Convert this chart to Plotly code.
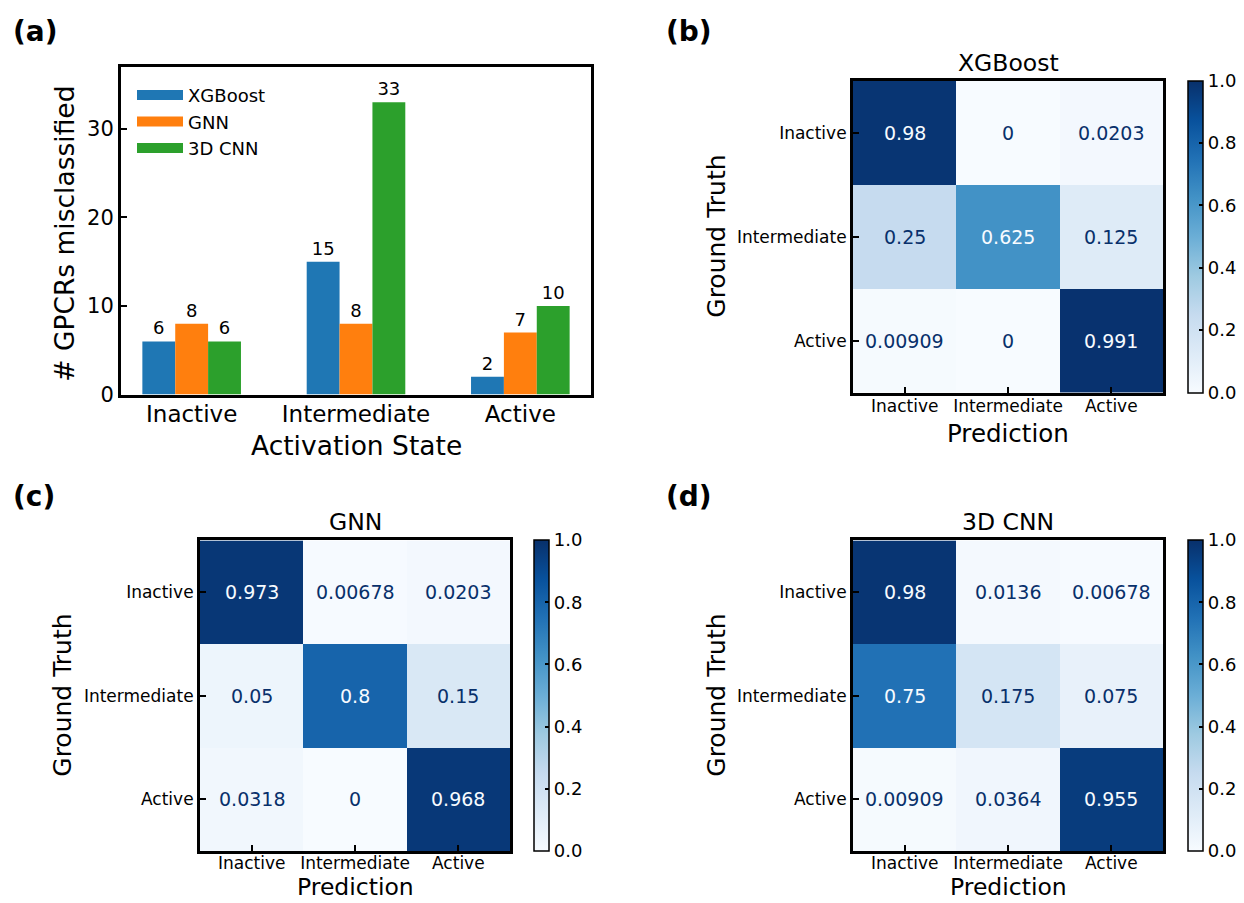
import plotly.graph_objects as go

W = 1244
H_REF = 903          # reference picture height (coordinates below are read from it)
H = 914              # figure height; the page capture is rescaled to 903 px

# ---------------- data ----------------
states = ["Inactive", "Intermediate", "Active"]
models = ["XGBoost", "GNN", "3D CNN"]
mis_xgb = [6, 15, 2]
mis_gnn = [8, 8, 7]
mis_cnn = [6, 33, 10]

cm_xgb = [[0.98, 0.0, 0.0203],
          [0.25, 0.625, 0.125],
          [0.00909, 0.0, 0.991]]
cm_gnn = [[0.973, 0.00678, 0.0203],
          [0.05, 0.8, 0.15],
          [0.0318, 0.0, 0.968]]
cm_cnn = [[0.98, 0.0136, 0.00678],
          [0.75, 0.175, 0.075],
          [0.00909, 0.0364, 0.955]]

bar_colors = ["#1f77b4", "#ff7f0e", "#2ca02c"]
blues = [[0.0, "rgb(247,251,255)"], [0.125, "rgb(222,235,247)"], [0.25, "rgb(198,219,239)"],
         [0.375, "rgb(158,202,225)"], [0.5, "rgb(107,174,214)"], [0.625, "rgb(66,146,198)"],
         [0.75, "rgb(33,113,181)"], [0.875, "rgb(8,81,156)"], [1.0, "rgb(8,48,107)"]]

FONT = "DejaVu Sans"


def px(x):
    return x / W


def py(y):
    return 1 - y / H_REF


fig = go.Figure()

# ---------------- panel (a): bars ----------------
for name, vals, col in zip(models, [mis_xgb, mis_gnn, mis_cnn], bar_colors):
    fig.add_trace(go.Bar(
        x=list(range(len(states))), y=vals, name=name, marker_color=col,
        marker_line_width=0, text=[str(v) for v in vals], textposition="outside",
        textfont=dict(size=18, color="black", family=FONT), cliponaxis=False,
        xaxis="x", yaxis="y", showlegend=False, legendgroup=name))
    # legend entry drawn as a wide patch
    fig.add_trace(go.Scatter(
        x=[None], y=[None], mode="lines", name=name, line=dict(color=col, width=13),
        xaxis="x", yaxis="y", showlegend=True, legendgroup=name, hoverinfo="skip"))

axis_common = dict(showline=True, linecolor="black", linewidth=3, mirror=True,
                   ticks="inside", ticklen=6, tickwidth=2, tickcolor="black",
                   showgrid=False, zeroline=False)

layout = dict(
    width=W, height=H, margin=dict(l=0, r=0, t=0, b=0),
    paper_bgcolor="white", plot_bgcolor="white",
    font=dict(family=FONT, color="black"),
    barmode="group", bargap=0.4, bargroupgap=0.0,
    xaxis=dict(domain=[px(121), px(591)], anchor="y", range=[-0.43, 2.43],
               tickvals=list(range(len(states))), ticktext=states, ticklabelstandoff=-3,
               tickfont=dict(size=23), **{**axis_common, "ticks": ""}),
    yaxis=dict(domain=[py(395), py(67)], anchor="x", range=[0, 37],
               tickvals=[0, 10, 20, 30], tickfont=dict(size=21), **axis_common),
    legend=dict(x=px(132), y=py(77), xanchor="left", yanchor="top",
                font=dict(size=18), bgcolor="rgba(0,0,0,0)", tracegroupgap=0,
                itemwidth=46, traceorder="normal"),
)

annotations = []
annotations.append(dict(text="Activation State", x=px(356), y=py(446), xref="paper", yref="paper",
                        showarrow=False, font=dict(size=26.5), xanchor="center", yanchor="middle"))
annotations.append(dict(text="# GPCRs misclassified", x=px(65), y=py(234), xref="paper", yref="paper",
                        showarrow=False, font=dict(size=26.5), textangle=-90,
                        xanchor="center", yanchor="middle"))

# ---------------- heatmaps ----------------
panels = [
    ("XGBoost", cm_xgb, (853, 1163, 81, 393), (1188, 1203), 717, "2"),
    ("GNN", cm_gnn, (200, 510, 541, 852), (534, 549), 63, "3"),
    ("3D CNN", cm_cnn, (853, 1163, 541, 852), (1188, 1203), 717, "4"),
]

for title, cm, (x0, x1, y0, y1), (c0, c1), ytx, k in panels:
    bottom_row = y1 + 41 + 16 > H_REF
    fig.add_trace(go.Heatmap(
        z=cm, x=list(range(3)), y=list(range(3)), zmin=0, zmax=1,
        colorscale=blues, xaxis="x" + k, yaxis="y" + k, hoverinfo="z",
        colorbar=dict(x=px(c0), xanchor="left", xref="paper", y=py(y1), yanchor="bottom",
                      yref="paper", len=(y1 - y0) / H_REF, lenmode="fraction",
                      thickness=c1 - c0, thicknessmode="pixels",
                      outlinewidth=1.5, outlinecolor="black",
                      ticks="inside", ticklen=4, tickwidth=1.5, tickcolor="black",
                      tickvals=[0, 0.2, 0.4, 0.6, 0.8, 1.0], ticktext=["0.0", "0.2", "0.4", "0.6", "0.8", "1.0"],
                      tickfont=dict(size=18, family=FONT), xpad=0, ypad=0)))
    layout["xaxis" + k] = dict(domain=[px(x0), px(x1)], anchor="y" + k, range=[-0.5, 2.5],
                               tickvals=list(range(3)), ticktext=states,
                               ticklabelstandoff=-5 if bottom_row else -4,
                               tickfont=dict(size=17), **axis_common)
    layout["yaxis" + k] = dict(domain=[py(y1), py(y0)], anchor="x" + k, range=[2.5, -0.5],
                               tickvals=list(range(3)), ticktext=states,
                               tickfont=dict(size=17), **axis_common)
    cx = (x0 + x1) / 2
    annotations.append(dict(text=title, x=px(cx), y=py(y0 - 18), xref="paper", yref="paper",
                            showarrow=False, font=dict(size=23.5), xanchor="center", yanchor="middle"))
    if bottom_row:
        # bottom row: keep the title inside the page
        annotations.append(dict(text="Prediction", x=px(cx), y=0, xref="paper", yref="paper",
                                showarrow=False, font=dict(size=23.5), xanchor="center",
                                yanchor="bottom", borderpad=0))
    else:
        annotations.append(dict(text="Prediction", x=px(cx), y=py(y1 + 41), xref="paper",
                                yref="paper", showarrow=False, font=dict(size=24.5),
                                xanchor="center", yanchor="middle"))
    annotations.append(dict(text="Ground Truth", x=px(ytx), y=py((y0 + y1) / 2), xref="paper",
                            yref="paper", showarrow=False, font=dict(size=25), textangle=-90,
                            xanchor="center", yanchor="middle"))
    for i in range(3):
        for j in range(3):
            v = cm[i][j]
            annotations.append(dict(text=format(v, ".3g"), x=j, y=i, xref="x" + k, yref="y" + k,
                                    showarrow=False, font=dict(size=19,
                                                               color="#f7fbff" if v > 0.5 else "#08306b")))

for lab, x, y in [("(a)", 11, 32), ("(b)", 664, 32), ("(c)", 11, 497), ("(d)", 664, 497)]:
    annotations.append(dict(text="<b>" + lab + "</b>", x=px(x), y=py(y), xref="paper", yref="paper",
                            showarrow=False, font=dict(size=28, family=FONT), xanchor="left",
                            yanchor="middle"))

layout["annotations"] = annotations
fig.update_layout(**layout)

page_js = (
    "document.documentElement.style.margin='0';document.documentElement.style.overflow='hidden';"
    "document.body.style.margin='0';document.body.style.overflow='hidden';"
    "var g=document.getElementsByClassName('plotly-graph-div')[0];"
    "g.style.position='fixed';g.style.left='0px';g.style.top='0px';"
)
fig.write_html("out.html", post_script=page_js,
               config={"displayModeBar": False})
